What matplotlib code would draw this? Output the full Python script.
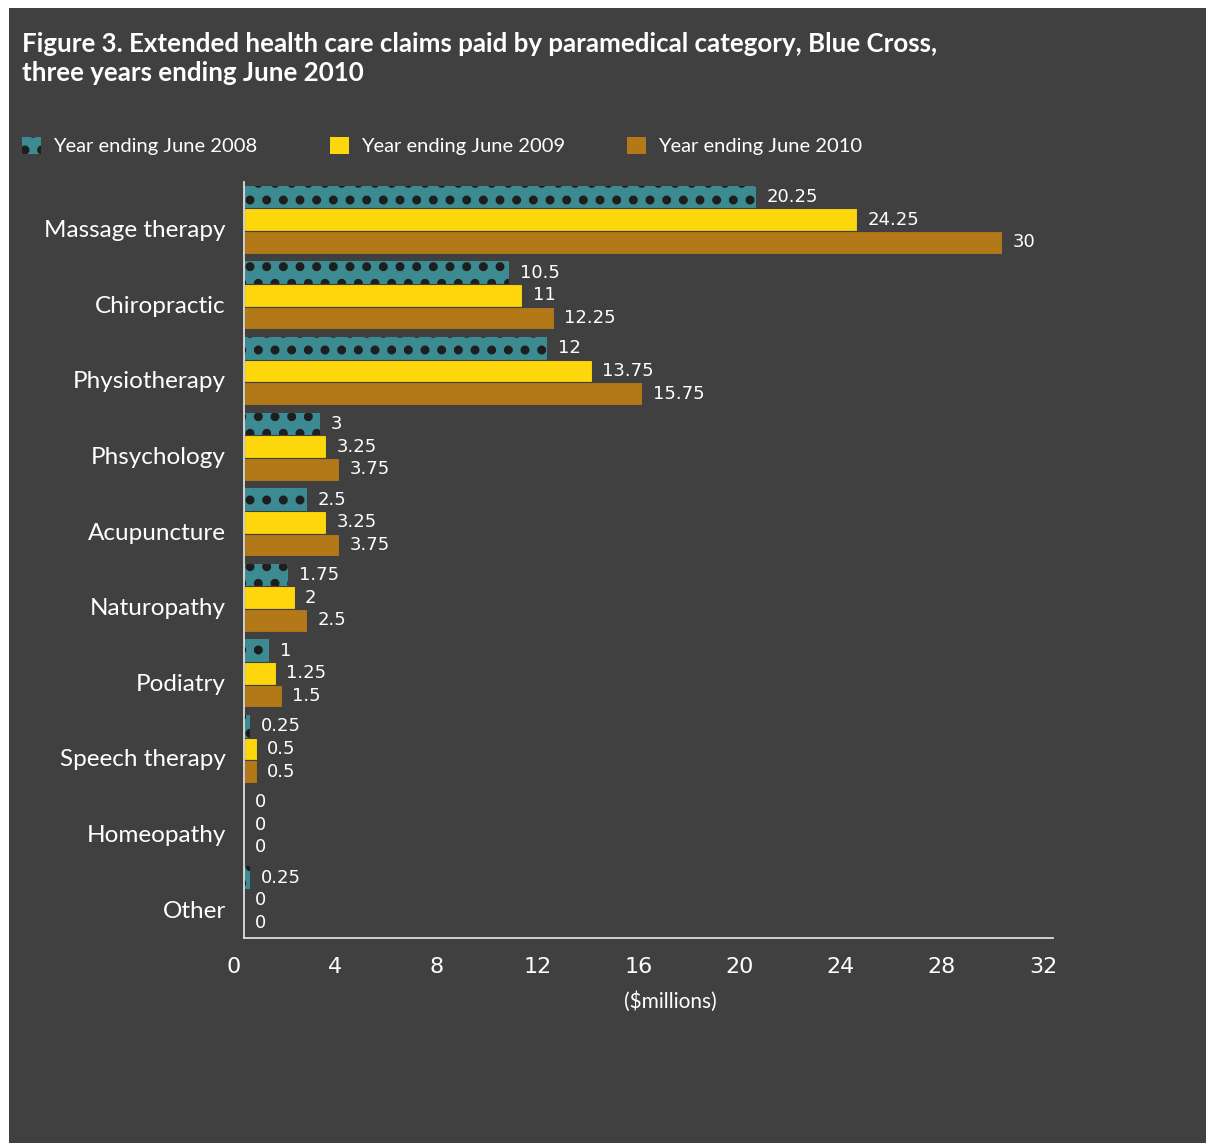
import matplotlib
matplotlib.use("Agg")
import matplotlib.pyplot as plt
import matplotlib.transforms as mtransforms
from matplotlib.patches import Patch, Rectangle
import numpy as np

categories = ["Massage therapy", "Chiropractic", "Physiotherapy", "Phsychology",
              "Acupuncture", "Naturopathy", "Podiatry", "Speech therapy",
              "Homeopathy", "Other"]
y2008 = [20.25, 10.5, 12, 3, 2.5, 1.75, 1, 0.25, 0, 0.25]
y2009 = [24.25, 11, 13.75, 3.25, 3.25, 2, 1.25, 0.5, 0, 0]
y2010 = [30, 12.25, 15.75, 3.75, 3.75, 2.5, 1.5, 0.5, 0, 0]
label2008 = ["20.25", "10.5", "12", "3", "2.5", "1.75", "1", "0.25", "0", "0.25"]
label2009 = ["24.25", "11", "13.75", "3.25", "3.25", "2", "1.25", "0.5", "0", "0"]
label2010 = ["30", "12.25", "15.75", "3.75", "3.75", "2.5", "1.5", "0.5", "0", "0"]
series_names = ["Year ending June 2008", "Year ending June 2009", "Year ending June 2010"]
xticks = [0, 4, 8, 12, 16, 20, 24, 28, 32]

BG = "#404040"
TEAL = "#3d8b92"
YELLOW = "#fdd70b"
BROWN = "#b37817"
DOT = "#1e1e1e"
TXT = "#ffffff"
SANS = ["Lato", "DejaVu Sans"]

plt.rcParams["hatch.linewidth"] = 4.0
plt.rcParams["hatch.color"] = DOT

fig = plt.figure(figsize=(12.06, 11.43), dpi=100)
fig.patch.set_facecolor("white")
fig.patches.append(Rectangle((9 / 1206, 0), 1 - 9 / 1206, 1 - 8 / 1143,
                             transform=fig.transFigure, facecolor=BG,
                             edgecolor="none", zorder=-10))

ax = fig.add_axes([244 / 1206, 1 - 938 / 1143, 809 / 1206, 756 / 1143])
ax.set_facecolor("none")

n = len(categories)
y = np.arange(n)
h = 0.3
b1 = ax.barh(y - h, y2008, height=h, color=TEAL, edgecolor=DOT, linewidth=0.0,
             hatch=".", zorder=2)
b2 = ax.barh(y, y2009, height=h, color=YELLOW, edgecolor=BG, linewidth=0.8, zorder=2)
b3 = ax.barh(y + h, y2010, height=h, color=BROWN, edgecolor=BG, linewidth=0.8, zorder=2)

for bars, labs in ((b1, label2008), (b2, label2009), (b3, label2010)):
    ax.bar_label(bars, labels=labs, padding=7.5, color=TXT, fontsize=13,
                 family="DejaVu Sans")

ax.set_xlim(0, 32)
ax.set_ylim(n - 0.5, -0.5)
ax.set_xticks(xticks)
ax.set_xticklabels([str(t) for t in xticks])
ax.set_yticks(y)
ax.set_yticklabels(categories)
ax.tick_params(axis="x", length=0, pad=14, labelsize=16, labelcolor=TXT)
ax.tick_params(axis="y", length=0, pad=13, labelsize=17.5, labelcolor=TXT)
for lab in ax.get_yticklabels():
    lab.set_family(SANS)
    lab.set_transform(lab.get_transform() +
                      mtransforms.ScaledTranslation(0, -9 / 100, fig.dpi_scale_trans))
for lab in ax.get_xticklabels():
    lab.set_family("DejaVu Sans")
    lab.set_transform(lab.get_transform() +
                      mtransforms.ScaledTranslation(-10 / 100, 0, fig.dpi_scale_trans))

for s in ("top", "right"):
    ax.spines[s].set_visible(False)
for s in ("left", "bottom"):
    ax.spines[s].set_color("#dddddd")
    ax.spines[s].set_linewidth(1.3)
    ax.spines[s].set_zorder(3)

ax.set_xlabel("($millions)", color=TXT, fontsize=15, family=SANS, labelpad=10)
ax.xaxis.label.set_x((670 - 244) / 809)

fig.text(22 / 1206, 1 - 32 / 1143,
         "Figure 3. Extended health care claims paid by paramedical category, Blue Cross,\n"
         "three years ending June 2010",
         ha="left", va="top", color=TXT, fontsize=18.6, fontweight="bold",
         family=SANS, linespacing=1.25)

handles = [Patch(facecolor=TEAL, edgecolor=DOT, linewidth=0, hatch="."),
           Patch(facecolor=YELLOW, edgecolor="none"),
           Patch(facecolor=BROWN, edgecolor="none")]
xpos = [22, 330, 627]
for hdl, name, xp in zip(handles, series_names, xpos):
    leg = fig.legend([hdl], [name], loc="center left",
                     bbox_to_anchor=(xp / 1206, 1 - 146 / 1143),
                     frameon=False, prop={"family": SANS, "size": 14.5},
                     handlelength=0.95, handleheight=0.95, handletextpad=0.6,
                     borderaxespad=0, borderpad=0)
    for t in leg.get_texts():
        t.set_color(TXT)

fig.savefig("out.png", dpi=100, facecolor=fig.get_facecolor())
